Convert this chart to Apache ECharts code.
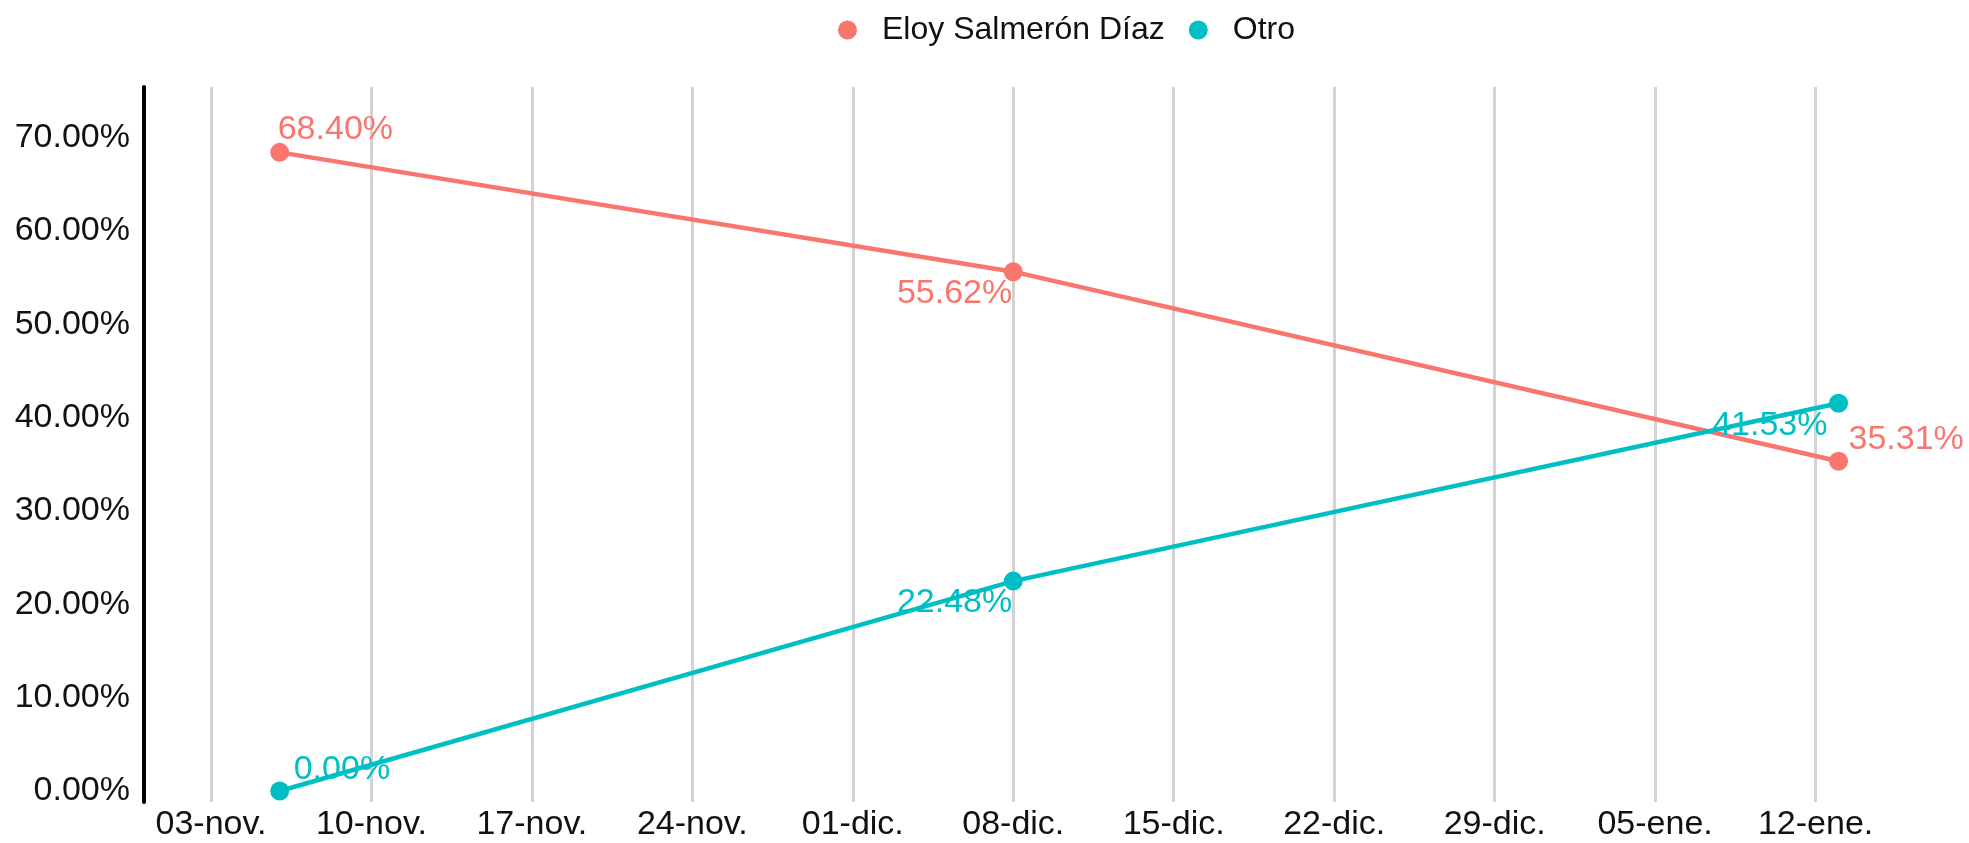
<!DOCTYPE html>
<html>
<head>
<meta charset="utf-8">
<script src="https://cdn.jsdelivr.net/npm/echarts@6/dist/echarts.min.js"></script>
<style>
html,body{margin:0;padding:0;background:#fff;}
#chart{width:1969px;height:843px;}
</style>
</head>
<body>
<div id="chart"></div>
<script>
// ---- data ----
const baseDate = '2019-11-03';
const pointDates = ['2019-11-06', '2019-12-08', '2020-01-13'];
const seriesNames = ['Eloy Salmerón Díaz', 'Otro'];
const eloyValues = [68.40, 55.62, 35.31];
const otroValues = [0.00, 22.48, 41.53];
const tickDates = ['2019-11-03','2019-11-10','2019-11-17','2019-11-24','2019-12-01','2019-12-08','2019-12-15','2019-12-22','2019-12-29','2020-01-05','2020-01-12'];
const tickLabels = ['03-nov.','10-nov.','17-nov.','24-nov.','01-dic.','08-dic.','15-dic.','22-dic.','29-dic.','05-ene.','12-ene.'];
const yTicks = [0, 10, 20, 30, 40, 50, 60, 70];

// ---- styles ----
const colors = ['#F8766D', '#00BFC4'];
const labelStyles = [
  [ {align:'left', offset:[-2,-23]}, {align:'right', offset:[-1,22]}, {align:'left', offset:[10,-22]} ],
  [ {align:'left', offset:[14,-21]}, {align:'right', offset:[-1,22]}, {align:'right', offset:[-11,22]} ]
];

function dayOffset(d) {
  const [y,m,dd] = d.split('-').map(Number);
  const [by,bm,bd] = baseDate.split('-').map(Number);
  return Math.round((Date.UTC(y,m-1,dd) - Date.UTC(by,bm-1,bd)) / 86400000);
}
const tickValues = tickDates.map(dayOffset);
const tickMap = {};
tickValues.forEach((v,i) => { tickMap[v] = tickLabels[i]; });

function buildData(values, si) {
  return values.map((v, i) => ({
    value: [dayOffset(pointDates[i]), v],
    label: {
      show: true,
      position: 'inside',
      align: labelStyles[si][i].align,
      verticalAlign: 'middle',
      offset: labelStyles[si][i].offset
    }
  }));
}

const font = "Liberation Sans, Arial, sans-serif";
const chart = echarts.init(document.getElementById('chart'), null, {renderer: 'canvas'});
const allValues = [eloyValues, otroValues];

chart.setOption({
  animation: false,
  backgroundColor: '#ffffff',
  color: colors,
  legend: {
    top: 9,
    left: 833,
    icon: 'circle',
    itemWidth: 19,
    itemHeight: 19,
    itemGap: 24,
    textStyle: { fontFamily: font, fontSize: 32, color: '#111', padding: [0,0,0,20] },
    data: seriesNames
  },
  grid: { left: 144, right: 9, top: 87, bottom: 41, containLabel: false, outerBoundsMode: 'none' },
  xAxis: {
    type: 'value',
    min: -2.92,
    max: 76.3,
    axisLine: { show: false },
    axisTick: { show: false, customValues: tickValues },
    splitLine: { show: true, lineStyle: { color: '#d3d3d3', width: 3 } },
    axisLabel: {
      customValues: tickValues,
      formatter: v => tickMap[v] || '',
      fontFamily: font, fontSize: 34, color: '#111', margin: 6
    }
  },
  yAxis: {
    type: 'value',
    min: -1.18,
    max: 75.4,
    axisLine: { show: true, onZero: false, lineStyle: { color: '#000', width: 4 } },
    axisTick: { show: false, customValues: yTicks },
    splitLine: { show: false },
    axisLabel: {
      customValues: yTicks,
      formatter: v => v.toFixed(2) + '%',
      fontFamily: font, fontSize: 34, color: '#111', margin: 14
    }
  },
  series: seriesNames.map((name, si) => ({
    name: name,
    type: 'line',
    data: buildData(allValues[si], si),
    symbol: 'circle',
    symbolSize: 19,
    lineStyle: { width: 4.5, color: colors[si] },
    itemStyle: { color: colors[si] },
    label: {
      show: true,
      formatter: p => p.value[1].toFixed(2) + '%',
      fontFamily: font, fontSize: 34, color: colors[si]
    },
    z: 2 + si
  }))
});
</script>
</body>
</html>
